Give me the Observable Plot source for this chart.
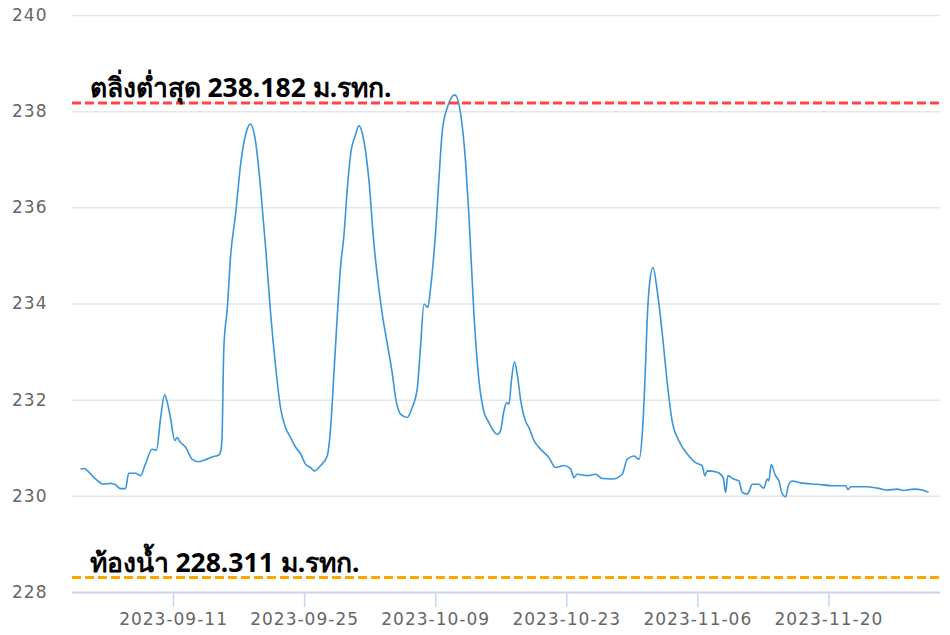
<!DOCTYPE html>
<html>
<head>
<meta charset="utf-8">
<script src="https://cdn.jsdelivr.net/npm/d3@7"></script>
<script src="https://cdn.jsdelivr.net/npm/@observablehq/plot@0.6"></script>
<style>
  html, body { margin: 0; padding: 0; background: #fff; }
  #chart svg { display: block; }
  .ax text { letter-spacing: 1px; }
</style>
</head>
<body>
<div id="chart"></div>
<script>
// Observed water level (m. MSL) — times in UTC
const times = [
  "2023-09-01T03","2023-09-01T10","2023-09-02T12","2023-09-03T13","2023-09-04T07","2023-09-04T19",
  "2023-09-05T08","2023-09-05T21","2023-09-06T05","2023-09-06T23","2023-09-07T11","2023-09-08T00",
  "2023-09-08T17","2023-09-09T04","2023-09-09T15","2023-09-10T01","2023-09-10T09","2023-09-10T16",
  "2023-09-11T03","2023-09-11T09","2023-09-11T18","2023-09-12T07","2023-09-13T00","2023-09-13T17",
  "2023-09-14T10","2023-09-15T03","2023-09-15T20","2023-09-16T00","2023-09-16T04","2023-09-16T09",
  "2023-09-16T18","2023-09-17T02","2023-09-17T15","2023-09-18T04","2023-09-18T17","2023-09-19T05",
  "2023-09-19T18","2023-09-20T07","2023-09-20T20","2023-09-21T09","2023-09-21T21","2023-09-22T10",
  "2023-09-22T23","2023-09-23T12","2023-09-24T01","2023-09-24T14","2023-09-25T02","2023-09-25T15",
  "2023-09-26T01","2023-09-26T17","2023-09-27T10","2023-09-27T18","2023-09-28T03","2023-09-28T12",
  "2023-09-28T20","2023-09-29T05","2023-09-29T13","2023-09-29T22","2023-09-30T11","2023-09-30T19",
  "2023-10-01T08","2023-10-01T21","2023-10-02T09","2023-10-02T22","2023-10-03T07","2023-10-03T20",
  "2023-10-04T09","2023-10-04T17","2023-10-05T06","2023-10-05T23","2023-10-06T12","2023-10-07T01",
  "2023-10-07T09","2023-10-07T18","2023-10-08T04","2023-10-08T11","2023-10-09T00","2023-10-09T08",
  "2023-10-09T17","2023-10-10T06","2023-10-11T01","2023-10-11T16","2023-10-12T05","2023-10-12T13",
  "2023-10-13T02","2023-10-13T15","2023-10-14T03","2023-10-14T16","2023-10-15T14","2023-10-15T22",
  "2023-10-16T07","2023-10-16T14","2023-10-16T20","2023-10-17T02","2023-10-17T10","2023-10-17T17",
  "2023-10-18T02","2023-10-18T14","2023-10-18T23","2023-10-19T12","2023-10-20T05","2023-10-21T02",
  "2023-10-21T19","2023-10-22T17","2023-10-23T10","2023-10-23T18","2023-10-24T03","2023-10-25T05",
  "2023-10-26T02","2023-10-26T19","2023-10-27T21","2023-10-28T22","2023-10-29T11","2023-10-30T04",
  "2023-10-30T17","2023-10-31T02","2023-10-31T10","2023-10-31T14","2023-10-31T21","2023-11-01T05",
  "2023-11-01T16","2023-11-02T05","2023-11-02T18","2023-11-03T06","2023-11-03T23","2023-11-04T21",
  "2023-11-05T18","2023-11-06T11","2023-11-06T18","2023-11-07T00","2023-11-08T02","2023-11-08T17",
  "2023-11-08T23","2023-11-09T05","2023-11-09T20","2023-11-10T09","2023-11-10T18","2023-11-11T07",
  "2023-11-11T20","2023-11-12T12","2023-11-13T01","2023-11-13T10","2023-11-13T14","2023-11-13T20",
  "2023-11-14T07","2023-11-14T16","2023-11-14T23","2023-11-15T09","2023-11-15T17","2023-11-16T02",
  "2023-11-16T23","2023-11-18T18","2023-11-20T13","2023-11-21T19","2023-11-22T01","2023-11-22T08",
  "2023-11-24T02","2023-11-25T04","2023-11-26T06","2023-11-27T07","2023-11-28T00","2023-11-29T02",
  "2023-11-29T23","2023-11-30T14"
];
const levels = [
  230.57,230.58,230.39,230.25,230.27,230.24,
  230.16,230.16,230.48,230.48,230.43,230.67,
  230.98,230.96,231.64,232.11,231.92,231.64,
  231.16,231.22,231.12,231.02,230.77,230.72,
  230.76,230.82,230.86,230.91,231.16,233.10,
  233.93,234.97,235.87,236.91,237.53,237.74,
  237.39,236.42,235.18,233.79,232.75,231.85,
  231.43,231.22,231.02,230.88,230.67,230.60,
  230.53,230.64,230.84,231.36,232.54,233.79,
  234.76,235.45,236.35,237.12,237.53,237.71,
  237.39,236.56,235.31,234.34,233.79,233.17,
  232.54,232.06,231.71,231.64,231.85,232.26,
  233.10,234.00,233.93,234.34,235.52,236.56,
  237.60,238.09,238.35,237.95,236.91,235.87,
  233.79,232.40,231.78,231.54,231.29,231.36,
  231.78,231.95,231.92,232.40,232.80,232.54,
  231.99,231.57,231.43,231.16,230.98,230.81,
  230.60,230.64,230.57,230.39,230.46,230.43,
  230.46,230.37,230.36,230.46,230.77,230.84,
  230.77,231.36,232.75,233.65,234.48,234.76,
  234.27,233.37,232.33,231.57,231.16,230.88,
  230.70,230.64,230.43,230.53,230.50,230.39,
  230.08,230.43,230.36,230.32,230.08,230.05,
  230.25,230.25,230.17,230.36,230.32,230.66,
  230.43,230.32,230.08,229.99,230.25,230.32,
  230.28,230.25,230.22,230.22,230.14,230.20,
  230.20,230.17,230.13,230.15,230.12,230.15,
  230.13,230.09
];

const minBank = 238.182;   // ตลิ่งต่ำสุด
const riverBed = 228.311;  // ท้องน้ำ
const bankLabel = "ตลิ่งต่ำสุด 238.182 ม.รทก.";
const bedLabel = "ท้องน้ำ 228.311 ม.รทก.";

const yTicks = [228, 230, 232, 234, 236, 238, 240];
const xTickLabels = ["2023-09-11", "2023-09-25", "2023-10-09", "2023-10-23", "2023-11-06", "2023-11-20"];

const parseUTC = s => new Date(s + ":00:00Z");
const data = times.map((t, i) => ({date: parseUTC(t), level: levels[i]}));
const xTicks = xTickLabels.map(s => new Date(s + "T00:00:00Z"));

const chart = Plot.plot({
  width: 950,
  height: 635,
  marginLeft: 72,
  marginRight: 10,
  marginTop: 15,
  marginBottom: 43,
  style: {fontFamily: "'DejaVu Sans', sans-serif", fontSize: "17px", background: "#fff"},
  x: {type: "utc", domain: [new Date("2023-08-31T05:00:00Z"), new Date("2023-12-01T22:00:00Z")]},
  y: {domain: [228, 240]},
  marks: [
    Plot.gridY(yTicks, {stroke: "#e6e6e6", strokeOpacity: 1, strokeWidth: 1.5}),
    Plot.ruleY([228], {stroke: "#ccd6eb", strokeWidth: 2}),
    Plot.axisY(yTicks, {tickSize: 0, tickPadding: 25, fill: "#666", fontSize: 17, label: null, className: "ax"}),
    Plot.axisX(xTicks, {tickSize: 15, tickPadding: 5, stroke: "#ccd6eb", strokeWidth: 1.5, fill: "#666", fontSize: 17,
      tickFormat: d3.utcFormat("%Y-%m-%d"), label: null, className: "ax"}),
    Plot.line(data, {x: "date", y: "level", stroke: "#3a96db", strokeWidth: 1.6, curve: "monotone-x"}),
    Plot.ruleY([minBank], {stroke: "#ff4444", strokeWidth: 3, strokeDasharray: "9,4"}),
    Plot.ruleY([riverBed], {stroke: "#ffa500", strokeWidth: 3, strokeDasharray: "9,4"}),
    Plot.text([{y: minBank, t: bankLabel}, {y: riverBed, t: bedLabel}], {
      y: "y", text: "t", frameAnchor: "left", textAnchor: "start", lineAnchor: "bottom",
      dx: 17, dy: -6, fontSize: 26.5, fontWeight: "bold", fill: "#000",
      fontFamily: "'Noto Sans', 'DejaVu Sans', sans-serif"
    })
  ]
});
document.getElementById("chart").append(chart);
</script>
</body>
</html>
